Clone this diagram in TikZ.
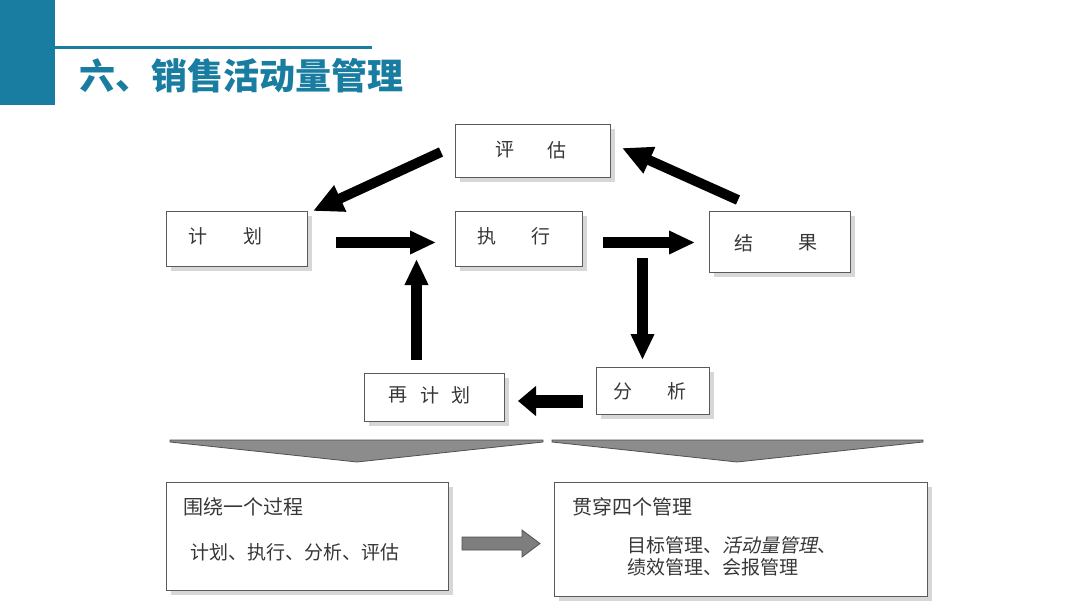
\documentclass[tikz,border=0pt]{standalone}
\usepackage{fontspec}
\newfontfamily\cjk{Noto Sans CJK SC}
\newfontfamily\cjkit{Noto Sans CJK SC}[FakeSlant=0.2]
\usetikzlibrary{arrows.meta,shadows}
\definecolor{teal1}{RGB}{24,125,160}
\definecolor{boxline}{RGB}{90,90,90}
\definecolor{shade}{RGB}{215,215,215}
\definecolor{txt}{RGB}{55,55,55}
\definecolor{chev}{RGB}{140,140,140}
\definecolor{chevline}{RGB}{80,80,80}
\tikzset{
  box/.style={draw=boxline, line width=1pt, fill=white, inner sep=0pt,
    drop shadow={shadow xshift=5pt, shadow yshift=-5pt, fill=shade, opacity=1}},
  lbl/.style={font=\cjk\fontsize{19}{19}\selectfont, text=txt, inner sep=0pt},
  blk/.style={line width=11pt, -{Triangle[length=26pt,width=22pt]}},
  blkd/.style={line width=10pt, -{Triangle[length=30pt,width=27pt]}},
}
\begin{document}
\begin{tikzpicture}[x=1pt,y=-1pt]
\useasboundingbox (0,0) rectangle (1080,608);
% header
\fill[teal1] (0,0) rectangle (55,105);
\draw[teal1, line width=3pt] (55,47) -- (372,47);
\node[anchor=west, inner sep=0pt, text=teal1, font=\cjk\bfseries\fontsize{36}{36}\selectfont] (title) at (79,76) {六、销售活动量管理};

% boxes
\node[box, minimum width=155pt, minimum height=53pt] (pg) at (532.5,150.5) {};
\node[box, minimum width=141pt, minimum height=55pt] (jh) at (236.5,238.5) {};
\node[box, minimum width=127pt, minimum height=55pt] (zx) at (518.5,238.5) {};
\node[box, minimum width=141pt, minimum height=61pt] (jg) at (779.5,241.5) {};
\node[box, minimum width=140pt, minimum height=48pt] (zjh) at (434,397) {};
\node[box, minimum width=113pt, minimum height=47pt] (fx) at (652.5,390.5) {};
\node[box, minimum width=282pt, minimum height=108pt] (b1) at (307,536) {};
\node[box, minimum width=373pt, minimum height=114pt] (b2) at (740.5,539) {};

% labels
\node[lbl] (pg1) at (505,150) {评};
\node[lbl] (pg2) at (557,150) {估};
\node[lbl] (jh1) at (198,236) {计};
\node[lbl] (jh2) at (253,236) {划};
\node[lbl] (zx1) at (487,236) {执};
\node[lbl] (zx2) at (541,236) {行};
\node[lbl] (jg1) at (744,243) {结};
\node[lbl] (jg2) at (808,243) {果};
\node[lbl] (zj1) at (398,395) {再};
\node[lbl] (zj2) at (430,395) {计};
\node[lbl] (zj3) at (461,395) {划};
\node[lbl] (fx1) at (623,391) {分};
\node[lbl] (fx2) at (677,391) {析};

\node[lbl, anchor=west, font=\cjk\fontsize{20}{20}\selectfont] (t1) at (183,507) {围绕一个过程};
\node[lbl, anchor=west] (t2) at (190,552) {计划、执行、分析、评估};
\node[lbl, anchor=west, font=\cjk\fontsize{20}{20}\selectfont] (t3) at (572,507) {贯穿四个管理};
\node[lbl, anchor=west] (t4) at (627,545) {目标管理、{\cjkit 活动量管理}、};
\node[lbl, anchor=west] (t5) at (627,567) {绩效管理、会报管理};

% arrow ends
\coordinate (a1s) at (441,152); \coordinate (a1e) at (313,211);
\coordinate (a2s) at (738,200); \coordinate (a2e) at (622,148);
\coordinate (a3s) at (336,242.5); \coordinate (a3e) at (436,242.5);
\coordinate (a4s) at (603,242.5); \coordinate (a4e) at (695,242.5);
\coordinate (a5s) at (642.5,258); \coordinate (a5e) at (642.5,360);
\coordinate (a6s) at (583,401); \coordinate (a6e) at (518,401);
\coordinate (a7s) at (416.5,360); \coordinate (a7e) at (416.5,259);

\draw[blkd] (a1s) -- (a1e);
\draw[blkd] (a2s) -- (a2e);
\draw[blk] (a3s) -- (a3e);
\draw[blk] (a4s) -- (a4e);
\draw[blk] (a5s) -- (a5e);
\draw[line width=13pt, -{Triangle[length=18pt,width=29pt]}] (a6s) -- (a6e);
\draw[blk] (a7s) -- (a7e);

% chevrons
\draw[fill=chev, draw=chevline, line width=0.8pt] (170,440) -- (543,440) -- (543,442) -- (357,462) -- (170,442) -- cycle;
\draw[fill=chev, draw=chevline, line width=0.8pt] (552,440) -- (923,440) -- (923,442) -- (737,462) -- (552,442) -- cycle;

% gray arrow
\draw[fill=chev!90!black, draw=chevline, line width=0.8pt] (462,537) -- (522,537) -- (522,530) -- (540,543.5) -- (522,557) -- (522,550) -- (462,550) -- cycle;
\end{tikzpicture}
\end{document}
